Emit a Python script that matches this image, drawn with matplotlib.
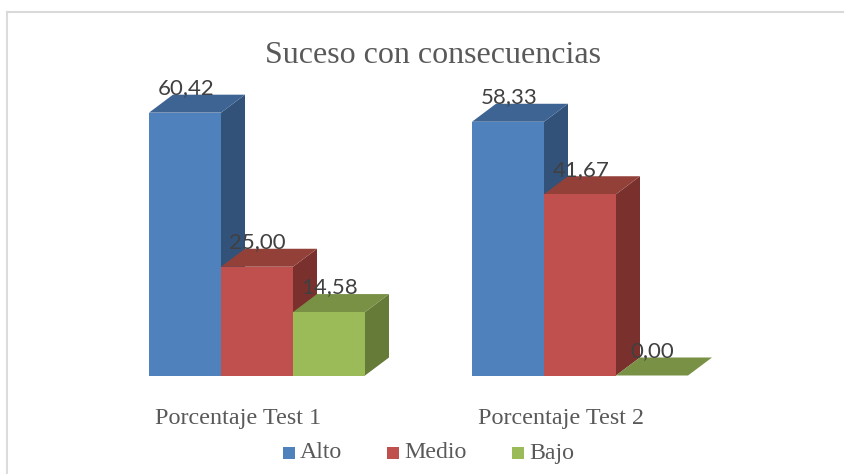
import matplotlib
matplotlib.use("Agg")
import matplotlib.pyplot as plt
from matplotlib.patches import Polygon, Rectangle
from matplotlib.lines import Line2D

categories = ["Porcentaje Test 1", "Porcentaje Test 2"]
series_names = ["Alto", "Medio", "Bajo"]
alto = [60.42, 58.33]
medio = [25.00, 41.67]
bajo = [14.58, 0.00]
title = "Suceso con consecuencias"

front_colors = ["#4F81BD", "#C0504D", "#9BBB59"]
top_colors = ["#3E6494", "#934039", "#789145"]
side_colors = ["#32527A", "#7A302D", "#667B37"]
label_color = "#404040"
text_color = "#595959"
serif = ["Liberation Serif", "DejaVu Serif"]
W, H = 845, 474

fig = plt.figure(figsize=(W / 100, H / 100), dpi=100, facecolor="white")

BASE_PX = 375.5
PX_PER_UNIT = 4.35
TOP_PX = 60
LEFT_PX, RIGHT_PX = 100, 760
ax = fig.add_axes([LEFT_PX / W, 1 - BASE_PX / H,
                   (RIGHT_PX - LEFT_PX) / W, (BASE_PX - TOP_PX) / H])
ax.set_ylim(0, (BASE_PX - TOP_PX) / PX_PER_UNIT)
BAR_PX = 72
GROUP_GAP_PX = 323
ax.set_xlim(0, (RIGHT_PX - LEFT_PX) / BAR_PX)
ax.axis("off")

dx = 24 / BAR_PX
dy = 18 / PX_PER_UNIT
x0 = (149 - LEFT_PX) / BAR_PX
gap = GROUP_GAP_PX / BAR_PX
all_series = [alto, medio, bajo]
label_lift = 24.5 / PX_PER_UNIT

for g, cat in enumerate(categories):
    start = x0 + g * gap
    for i, vals in enumerate(all_series):
        v = vals[g]
        l, r = start + i, start + i + 1
        if v > 0:
            ax.add_patch(Polygon([(r, 0), (r + dx, dy), (r + dx, v + dy), (r, v)],
                                 closed=True, fc=side_colors[i], ec="none", zorder=2 + i * 2))
        ax.add_patch(Polygon([(l, v), (l + dx, v + dy), (r + dx, v + dy), (r, v)],
                             closed=True, fc=top_colors[i], ec="none", zorder=2 + i * 2))
        if v > 0:
            ax.bar(l, v, width=1, align="edge", color=front_colors[i], linewidth=0, zorder=3 + i * 2)
        ax.text((l + r) / 2 + 0.01, v + label_lift, f"{v:.2f}".replace(".", ","),
                ha="center", va="center", fontsize=16, family=["Lato", "DejaVu Sans"],
                color=label_color, zorder=20)
    ax.text(start + 1.5 - 19 / BAR_PX, (BASE_PX - 418.5) / PX_PER_UNIT, cat, ha="center", va="center",
            fontsize=17.4, family=serif, color=text_color, clip_on=False)

fig.text(433 / W, 1 - 55.5 / H, title, ha="center", va="center", fontsize=23,
         family=serif, color=text_color)

# Legend
for name, c, sq, tx in zip(series_names, front_colors, [283, 387, 512], [300, 404, 529]):
    fig.add_artist(Rectangle((sq / W, 1 - 458.5 / H), 12 / W, 12 / H, transform=fig.transFigure, fc=c, ec="none"))
    fig.text(tx / W, 1 - 453 / H, name, ha="left", va="center", fontsize=17.2, family=serif, color=text_color)

# Frame: left and top rules
fig.add_artist(Line2D([7 / W, 7 / W], [0, 1 - 12 / H], transform=fig.transFigure, color="#DCDCDC", lw=1.5))
fig.add_artist(Line2D([7 / W, 1], [1 - 12 / H, 1 - 12 / H], transform=fig.transFigure, color="#D9D9D9", lw=1.5))

fig.savefig("out.png", dpi=100, facecolor="white")
